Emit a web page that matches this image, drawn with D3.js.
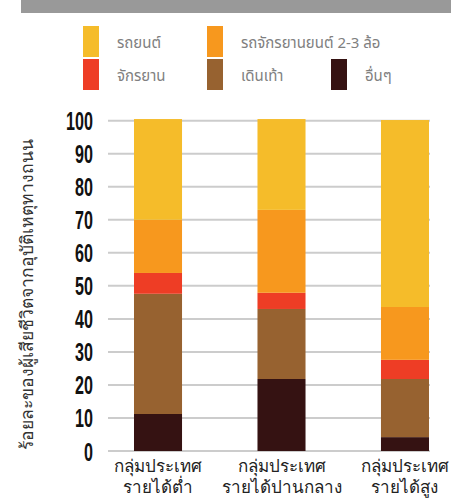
<!DOCTYPE html>
<html>
<head>
<meta charset="utf-8">
<script src="https://cdn.jsdelivr.net/npm/d3@7"></script>
<style>
  body { margin: 0; background: #fff; }
  svg { display: block; }
</style>
</head>
<body>
<div id="chart"></div>
<script>
const groups = ["low", "mid", "high"];
const groupLabels = [["กลุ่มประเทศ", "รายได้ต่ำ"], ["กลุ่มประเทศ", "รายได้ปานกลาง"], ["กลุ่มประเทศ", "รายได้สูง"]];
const seriesKeys = ["others", "walk", "bike", "moto", "car"];
const seriesNames = { car: "รถยนต์", moto: "รถจักรยานยนต์ 2-3 ล้อ", bike: "จักรยาน", walk: "เดินเท้า", others: "อื่นๆ" };
const others = [11.2, 21.8, 4.2];
const walk = [36.4, 21.2, 17.6];
const bike = [6.3, 4.9, 5.8];
const moto = [16.1, 25.1, 16.0];
const car = [30.5, 27.5, 56.6];
const yTicks = [0, 10, 20, 30, 40, 50, 60, 70, 80, 90, 100];

const colors = { car: "#f5bc2a", moto: "#f7981e", bike: "#ee3d25", walk: "#976230", others: "#351212" };

const rows = groups.map((g, i) => ({ group: g, others: others[i], walk: walk[i], bike: bike[i], moto: moto[i], car: car[i] }));

const w = 451, h = 499;
const svg = d3.select("#chart").append("svg").attr("width", w).attr("height", h);

// top grey band
svg.append("rect").attr("x", 21).attr("y", 0).attr("width", w - 21).attr("height", 13).attr("fill", "#999");

// legend
const legendItems = [
  { key: "car", x: 83, y: 26 }, { key: "moto", x: 207, y: 26 },
  { key: "bike", x: 83, y: 59 }, { key: "walk", x: 207, y: 59 }, { key: "others", x: 331, y: 59 }
];
const lg = svg.append("g");
legendItems.forEach(d => {
  lg.append("rect").attr("x", d.x).attr("y", d.y).attr("width", 16).attr("height", 31).attr("fill", colors[d.key]);
  lg.append("text").attr("x", d.x + 34).attr("y", d.y + 22)
    .attr("font-family", "'Noto Sans', 'Noto Sans Thai', sans-serif").attr("font-size", 15).attr("fill", "#808080")
    .text(seriesNames[d.key]);
});

const x = d3.scaleBand().domain(groups).range([109.3, 453.7]).paddingInner(0.611).paddingOuter(0.2);
const y = d3.scaleLinear().domain([0, 100]).range([451, 120.7]);

// gridlines
svg.append("g").selectAll("line").data(yTicks).join("line")
  .attr("x1", 108).attr("x2", 430)
  .attr("y1", d => y(d)).attr("y2", d => y(d))
  .attr("stroke", "#cccccc").attr("stroke-width", 2);

// y tick labels
svg.append("g").selectAll("text").data(yTicks).join("text")
  .attr("transform", d => `translate(93,${y(d) + 9.5}) scale(0.62,1)`)
  .attr("text-anchor", "end")
  .attr("font-family", "'Liberation Sans', sans-serif").attr("font-weight", "bold")
  .attr("font-size", 26).attr("fill", "#111")
  .text(d => d);

// y title
svg.append("text")
  .attr("transform", "translate(33,294) rotate(-90)")
  .attr("text-anchor", "middle")
  .attr("font-family", "'Noto Sans', sans-serif").attr("font-size", 17.5).attr("fill", "#333")
  .text("ร้อยละของผู้เสียชีวิตจากอุบัติเหตุทางถนน");

// stacked bars
const stacked = d3.stack().keys(seriesKeys)(rows);
svg.append("g").selectAll("g").data(stacked).join("g")
  .attr("fill", s => colors[s.key])
  .selectAll("rect").data(s => s).join("rect")
  .attr("x", d => x(d.data.group))
  .attr("width", x.bandwidth())
  .attr("y", d => y(d[1]))
  .attr("height", d => y(d[0]) - y(d[1]));

// x labels
const xl = svg.append("g");
groups.forEach((g, i) => {
  const cx = x(g) + x.bandwidth() / 2;
  const t = xl.append("text")
    .attr("text-anchor", "middle")
    .attr("font-family", "'Noto Sans', sans-serif").attr("font-size", 17).attr("fill", "#222");
  t.append("tspan").attr("x", cx).attr("y", 472).text(groupLabels[i][0]);
  t.append("tspan").attr("x", cx).attr("y", 493).text(groupLabels[i][1]);
});
</script>
</body>
</html>
